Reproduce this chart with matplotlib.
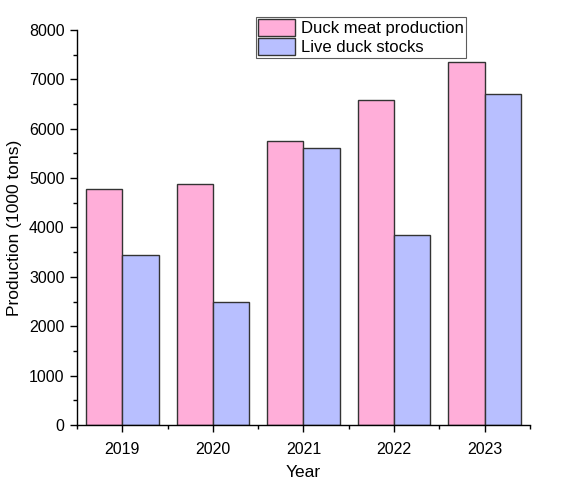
import numpy as np
import matplotlib.pyplot as plt
from matplotlib.ticker import MultipleLocator

plt.rcParams['font.family'] = ['Liberation Sans', 'DejaVu Sans']

years = ["2019", "2020", "2021", "2022", "2023"]
duck_meat = [4780, 4890, 5760, 6580, 7350]
live_ducks = [3450, 2500, 5610, 3840, 6700]

fig = plt.figure(figsize=(5.62, 4.8), dpi=100)
ax = fig.add_axes([0.137, 0.1146, 0.806, 0.823])

x = np.arange(1, len(years) + 1)
w = 0.4
ax.bar(x - w / 2, duck_meat, w, color="#FFAED9", edgecolor="#333333", linewidth=1.0, label="Duck meat production")
ax.bar(x + w / 2, live_ducks, w, color="#B8BFFF", edgecolor="#333333", linewidth=1.0, label="Live duck stocks")

ax.set_xlim(0.5, 5.5)
ax.set_ylim(0, 8000)
ax.set_xticks(x)
ax.set_xticklabels(years)
ax.xaxis.set_minor_locator(MultipleLocator(1.0, offset=0.5))
ax.yaxis.set_major_locator(MultipleLocator(1000))
ax.yaxis.set_minor_locator(MultipleLocator(500))

for s in ["top", "right"]:
    ax.spines[s].set_visible(False)
for s in ["left", "bottom"]:
    ax.spines[s].set_linewidth(1.0)
ax.tick_params(which="major", direction="out", length=5, width=1.0, labelsize=11.5)
ax.tick_params(axis="x", which="major", pad=7)
ax.tick_params(axis="y", which="major", pad=4)
ax.tick_params(which="minor", direction="out", length=3, width=1.0)

ax.set_xlabel("Year", fontsize=12.5, labelpad=6)
ax.set_ylabel("Production (1000 tons)", fontsize=12.5, labelpad=5)

leg = ax.legend(loc="upper left", bbox_to_anchor=(0.4555, 0.965), bbox_transform=fig.transFigure,
                fontsize=12, frameon=True, fancybox=False, edgecolor="#333333",
                handlelength=2.2, handleheight=1.2, handletextpad=0.35, borderpad=0.15,
                labelspacing=0.1, borderaxespad=0)
leg.get_frame().set_linewidth(0.8)

plt.savefig("out.png", dpi=100)
